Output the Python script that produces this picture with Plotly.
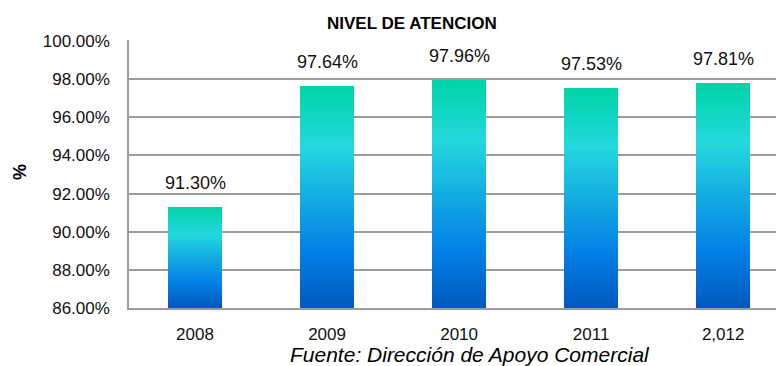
import plotly.graph_objects as go

# Nivel de atención por año
years = ["2008", "2009", "2010", "2011", "2,012"]
levels = [91.30, 97.64, 97.96, 97.53, 97.81]
label_texts = ["91.30%", "97.64%", "97.96%", "97.53%", "97.81%"]
y_ticks = [86, 88, 90, 92, 94, 96, 98, 100]
y_floor = 86

# vertical gradient stops (fraction of bar height -> RGB)
grad_stops = [
    (0.00, (0, 88, 190)),
    (0.25, (2, 128, 230)),
    (0.50, (20, 172, 226)),
    (0.73, (36, 216, 222)),
    (1.00, (0, 212, 166)),
]


def grad_color(t):
    for (t0, c0), (t1, c1) in zip(grad_stops[:-1], grad_stops[1:]):
        if t0 <= t <= t1:
            f = (t - t0) / (t1 - t0)
            r, g, b = (round(a + (b_ - a) * f) for a, b_ in zip(c0, c1))
            return f"rgb({r},{g},{b})"
    r, g, b = grad_stops[-1][1]
    return f"rgb({r},{g},{b})"


fig = go.Figure()

# each bar is painted as a stack of nested bars, tallest first, so the
# visible band of every layer gives a smooth bottom-to-top gradient
n_steps = 80
for k in range(n_steps - 1, -1, -1):
    frac_top = (k + 1) / n_steps
    heights = [(v - y_floor) * frac_top for v in levels]
    fig.add_trace(go.Bar(
        x=years,
        y=heights,
        base=[y_floor] * len(years),
        width=0.41,
        marker=dict(color=grad_color((k + 0.5) / n_steps), line=dict(width=0)),
        hoverinfo="skip",
        showlegend=False,
    ))

font_family = "Liberation Sans, Arial, sans-serif"

annotations = []
# value labels: category positions given by index so numeric-looking
# year names are not read as numbers
for i, (v, txt) in enumerate(zip(levels, label_texts)):
    annotations.append(dict(
        x=i, y=v, xref="x", yref="y", text=txt, showarrow=False,
        yanchor="bottom", yshift=12,
        font=dict(family=font_family, size=18, color="#111111"),
    ))

annotations.append(dict(
    x=-0.1685, y=0.507, xref="paper", yref="paper", text="<b>%</b>",
    showarrow=False, textangle=-90, xanchor="center", yanchor="middle",
    font=dict(family=font_family, size=18, color="#000000"),
))
annotations.append(dict(
    x=0.527, y=-0.175, xref="paper", yref="paper",
    text="<i>Fuente: Dirección de Apoyo Comercial</i>",
    showarrow=False, yanchor="middle", xanchor="center",
    font=dict(family=font_family, size=21, color="#000000"),
))
annotations.append(dict(
    x=0.438, y=1.0, xref="paper", yref="paper",
    text="<b>NIVEL DE ATENCION</b>",
    showarrow=False, yanchor="bottom", xanchor="center", yshift=5,
    font=dict(family=font_family, size=17, color="#000000"),
))

fig.update_layout(
    width=776, height=366,
    margin=dict(l=129, r=0, t=40, b=58),
    paper_bgcolor="white", plot_bgcolor="white",
    barmode="overlay", bargap=0,
    annotations=annotations,
    font=dict(family=font_family, color="#111111"),
)

fig.update_yaxes(
    range=[86, 100.05], tickvals=y_ticks,
    ticktext=[f"{t:.2f}%" for t in y_ticks],
    showgrid=True, gridcolor="#9c9c9c", gridwidth=1.5,
    showline=True, linecolor="#9c9c9c", linewidth=1.5,
    zeroline=False, ticks="", ticklabelstandoff=14,
    tickfont=dict(family=font_family, size=17, color="#111111"),
)
fig.update_xaxes(
    range=[-0.5, 4.40], type="category",
    showgrid=False, showline=True, linecolor="#9c9c9c", linewidth=1.5,
    ticks="", ticklabelstandoff=10,
    tickfont=dict(family=font_family, size=17, color="#111111"),
)

fig.write_html("out.html")
